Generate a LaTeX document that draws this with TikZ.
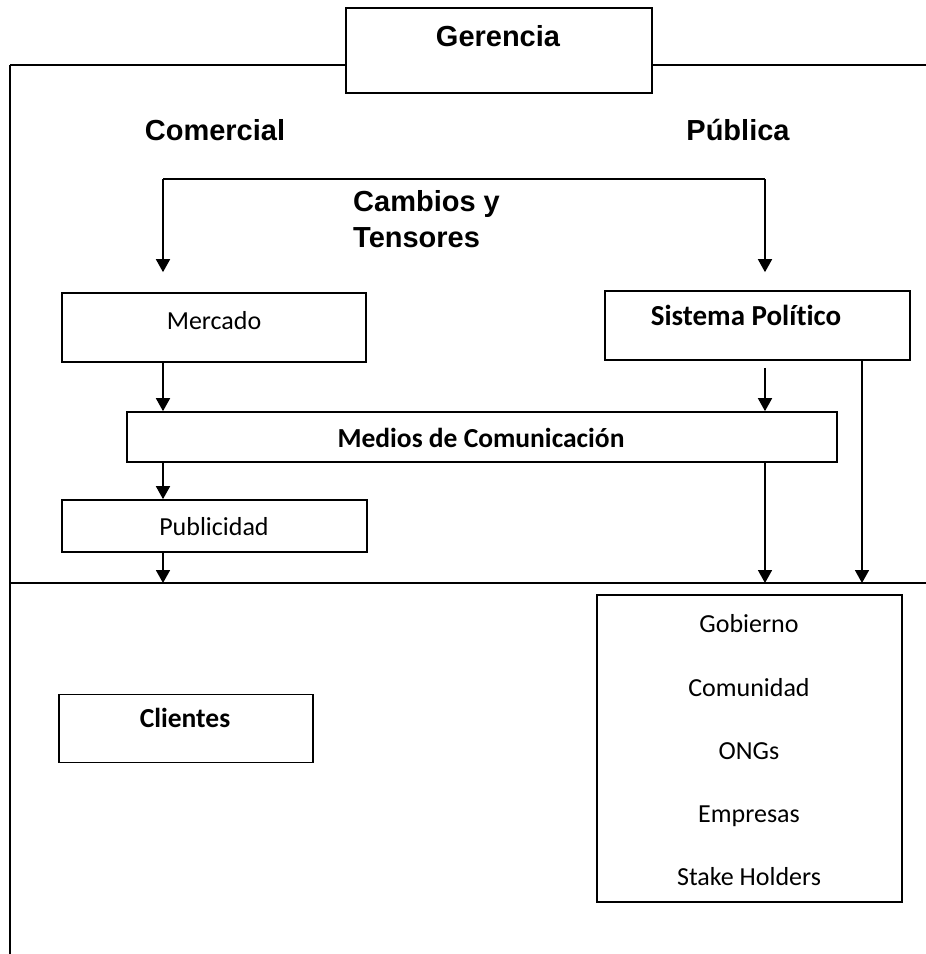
\documentclass[tikz,border=0pt]{standalone}
\usepackage{fontspec}
\newfontfamily\arialf{Liberation Sans}
\newfontfamily\calf{Carlito}[Ligatures={NoCommon}]
\usetikzlibrary{arrows.meta}
\tikzset{
  boxn/.style={draw=black, line width=1.7pt, inner sep=0pt, fill=white},
  frame/.style={draw=black, line width=1.7pt},
  arr/.style={draw=black, line width=1.7pt, -{Triangle[width=14pt,length=13pt]}},
  headt/.style={anchor=base, inner sep=0pt, font=\arialf\bfseries\fontsize{29}{36}\selectfont},
  calt/.style={anchor=base, inner sep=0pt, font=\calf\fontsize{26}{32}\selectfont},
  calbt/.style={anchor=base, inner sep=0pt, font=\calf\bfseries\fontsize{27.5}{32}\selectfont}
}
\begin{document}
\begin{tikzpicture}[x=1pt,y=-1pt]
\useasboundingbox (0,0) rectangle (926,954);
% coordinates
\coordinate (fTL) at (10,65);
\coordinate (fTR) at (926,65);
\coordinate (fBL) at (10,954);
\coordinate (hL) at (10,583);
\coordinate (hR) at (926,583);
\coordinate (colL) at (163,179);
\coordinate (colM) at (765,179);
\coordinate (colR) at (862,179);
% frame
\node[boxn, minimum width=306pt, minimum height=85pt] (ger) at (499,50.5) {};
\draw[frame] (fTL) -- (fTL -| ger.west);
\draw[frame] (fTR -| ger.east) -- (fTR);
\draw[frame] (fTL) -- (fBL);
\draw[frame] (hL) -- (hR);
\node[headt] (tger) at (498,46) {Gerencia};
\node[headt] (tcom) at (215,140) {Comercial};
\node[headt] (tpub) at (738,140) {Pública};
\node[headt, anchor=base west] (tcam1) at (353,211) {Cambios y};
\node[headt, anchor=base west] (tcam2) at (353,247) {Tensores};
% boxes
\node[boxn, minimum width=304pt, minimum height=69pt] (merc) at (214,327.5) {};
\node[calt] (tmerc) at (214,329) {Mercado};
\node[boxn, minimum width=305pt, minimum height=69pt] (sis) at (757.5,325.5) {};
\node[calbt, font=\calf\bfseries\fontsize{29}{34}\selectfont] (tsis) at (746,325) {Sistema Polít\kern0pt ico};
\node[boxn, minimum width=710pt, minimum height=50pt] (med) at (482,437) {};
\node[calbt] (tmed) at (481,447) {Medios de Comunicación};
\node[boxn, minimum width=305pt, minimum height=52pt] (pub) at (214.5,526) {};
\node[calt] (tpubl) at (214,535) {Publicidad};
\node[boxn, minimum width=254pt, minimum height=68pt] (cli) at (186,728.5) {};
\node[calbt] (tcli) at (185,727) {Clientes};
\node[boxn, minimum width=305pt, minimum height=307pt] (stk) at (749.5,748.5) {};
\node[calt] (s1) at (749,632) {Gobierno};
\node[calt] (s2) at (749,696) {Comunidad};
\node[calt] (s3) at (749,759) {ONGs};
\node[calt] (s4) at (749,822) {Empresas};
\node[calt] (s5) at (749,885) {Stake Holders};
% bracket
\draw[frame] (colL) -- (colM);
\draw[arr] (colL) -- ([yshift=20pt]colL |- merc.north);
\draw[arr] (colM) -- ([yshift=18pt]colM |- sis.north);
% arrows
\draw[arr] (colL |- merc.south) -- (colL |- med.north);
\draw[arr, shorten <=7pt] (colM |- sis.south) -- (colM |- med.north);
\draw[arr] (colR |- sis.south) -- (colR |- hL);
\draw[arr] (colM |- med.south) -- (colM |- hL);
\draw[arr] (colL |- med.south) -- (colL |- pub.north);
\draw[arr] (colL |- pub.south) -- (colL |- hL);
\end{tikzpicture}
\end{document}
